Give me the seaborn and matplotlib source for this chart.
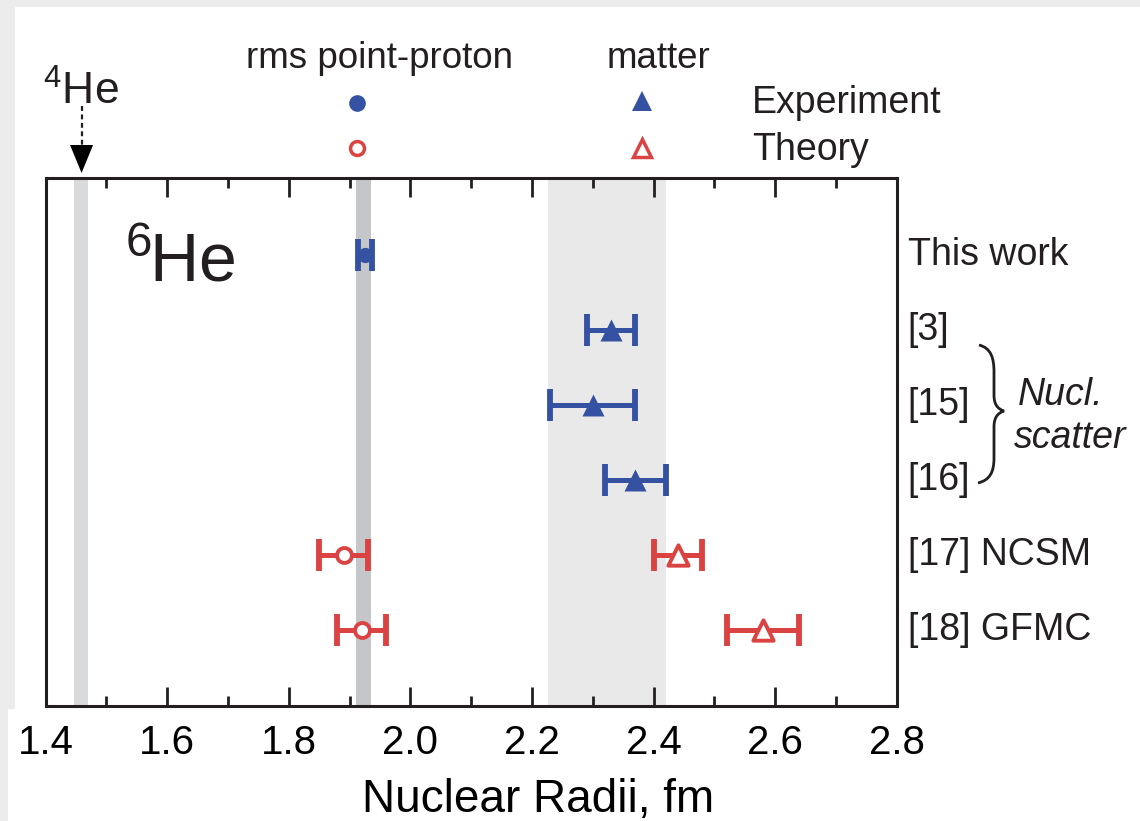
import numpy as np
import pandas as pd
import matplotlib
matplotlib.use("Agg")
import matplotlib.pyplot as plt
import seaborn as sns
from matplotlib.patches import Rectangle, PathPatch, Polygon
from matplotlib.path import Path
from matplotlib.lines import Line2D
import matplotlib.transforms as mtransforms

# ---------------- data ----------------
row_labels = ["This work", "[3]", "[15]", "[16]", "[17] NCSM", "[18] GFMC"]

exp_proton_rows = [0]
exp_proton_r = [1.925]
exp_proton_err = [0.012]

exp_matter_rows = [1, 2, 3]
exp_matter_r = [2.33, 2.30, 2.37]
exp_matter_err = [0.04, 0.07, 0.05]

th_proton_rows = [4, 5]
th_proton_r = [1.89, 1.92]
th_proton_err = [0.04, 0.04]

th_matter_rows = [4, 5]
th_matter_r = [2.44, 2.58]
th_matter_err = [0.04, 0.06]

he4_band = [1.447, 1.470]
proton_band = [1.910, 1.935]
matter_band = [2.226, 2.420]
he4_radius = 1.459

xticks_major = [1.4, 1.6, 1.8, 2.0, 2.2, 2.4, 2.6, 2.8]
xtick_labels = ["1.4", "1.6", "1.8", "2.0", "2.2", "2.4", "2.6", "2.8"]
xticks_minor = [1.5, 1.7, 1.9, 2.1, 2.3, 2.5, 2.7]

# ---------------- style ----------------
sns.set_theme(style="ticks")
plt.rcParams["font.family"] = ["Liberation Sans", "DejaVu Sans"]
plt.rcParams["mathtext.fontset"] = "custom"
plt.rcParams["mathtext.rm"] = "Liberation Sans"

BLUE = "#3451a2"
RED = "#db4242"
INK = "#231f20"

W, H = 1140, 821
fig = plt.figure(figsize=(W / 100, H / 100), dpi=100)
fig.patch.set_facecolor("#ececec")
# white page area
fig.add_artist(Rectangle((15 / W, 0), 1, 1 - 7 / H, transform=fig.transFigure,
                         facecolor="white", edgecolor="none", zorder=-10))
fig.add_artist(Rectangle((8 / W, 0), 1, 1 - 709 / H, transform=fig.transFigure,
                         facecolor="white", edgecolor="none", zorder=-10))

ax_l, ax_r, ax_t, ax_b = 45.7, 896.7, 178, 705.7
ax = fig.add_axes([ax_l / W, 1 - ax_b / H, (ax_r - ax_l) / W, (ax_b - ax_t) / H])
ax.set_facecolor("none")

# bands
ax.axvspan(*he4_band, color="#d9dadb", lw=0, zorder=0)
ax.axvspan(*proton_band, color="#c5c6ca", lw=0, zorder=0)
ax.axvspan(*matter_band, color="#e9e9e9", lw=0, zorder=0)

eb_kw = dict(fmt="none", elinewidth=3.6, capsize=11.5, capthick=4.2, zorder=3)
ax.errorbar(exp_proton_r, exp_proton_rows, xerr=exp_proton_err, ecolor=BLUE, **eb_kw)
ax.errorbar(exp_matter_r, exp_matter_rows, xerr=exp_matter_err, ecolor=BLUE, **eb_kw)
ax.errorbar(th_proton_r, th_proton_rows, xerr=th_proton_err, ecolor=RED, **eb_kw)
ax.errorbar(th_matter_r, th_matter_rows, xerr=th_matter_err, ecolor=RED, **eb_kw)

df_ep = pd.DataFrame({"r": exp_proton_r, "row": exp_proton_rows})
df_em = pd.DataFrame({"r": exp_matter_r, "row": exp_matter_rows})
df_tp = pd.DataFrame({"r": th_proton_r, "row": th_proton_rows})
df_tm = pd.DataFrame({"r": th_matter_r, "row": th_matter_rows})

sns.scatterplot(data=df_ep, x="r", y="row", marker="o", s=120, color=BLUE,
                edgecolor=BLUE, linewidth=0, ax=ax, zorder=2, legend=False)
sns.scatterplot(data=df_em, x="r", y="row", marker="^", s=250, color=BLUE,
                edgecolor=BLUE, linewidth=0, ax=ax, zorder=4, legend=False)
sns.scatterplot(data=df_tp, x="r", y="row", marker="o", s=115, color="white",
                edgecolor=RED, linewidth=2.8, ax=ax, zorder=4, legend=False)
sns.scatterplot(data=df_tm, x="r", y="row", marker="^", s=215, color="white",
                edgecolor=RED, linewidth=2.8, ax=ax, zorder=4, legend=False)

ax.set_xlim(1.4, 2.8)
ax.set_ylim(6.01, -1.027)
ax.set_yticks([])
ax.set_ylabel("")
ax.set_xticks(xticks_major)
ax.set_xticklabels(xtick_labels)
ax.set_xticks(xticks_minor, minor=True)
ax.tick_params(axis="x", which="both", direction="in", top=True, bottom=True,
               width=2.0, color=INK, labelsize=29, pad=13, labelcolor="black")
ax.tick_params(axis="x", which="major", length=14)
ax.tick_params(axis="x", which="minor", length=7)
for sp in ax.spines.values():
    sp.set_visible(True)
    sp.set_linewidth(2.2)
    sp.set_color(INK)
ax.set_xlabel("Nuclear Radii, fm", fontsize=33, color="black")
ax.xaxis.set_label_coords((538 - ax_l) / (ax_r - ax_l), -(812 - ax_b) / (ax_b - ax_t))
ax.xaxis.label.set_va("baseline")

def afx(x):
    return (x - ax_l) / (ax_r - ax_l)

def afy(y):
    return (ax_b - y) / (ax_b - ax_t)

# 6He label
ax.text(afx(125), afy(282), r"$\mathregular{^{6}\hspace{-0.07}He}$",
        transform=ax.transAxes, fontsize=49, ha="left", va="baseline", color=INK)

# row labels on right
blend = mtransforms.blended_transform_factory(ax.transAxes, ax.transData)
for i, lab in enumerate(row_labels):
    ax.text(1.013, i, lab, transform=blend, fontsize=27, ha="left", va="center",
            color=INK)

def fx(x):
    return x / W

def fy(y):
    return 1 - y / H

# brace
verts = [(979, 345), (991, 348), (994, 358), (994, 372),
         (994, 395),
         (994, 405), (998, 409), (1004, 411),
         (998, 413), (994, 417), (994, 427),
         (994, 458),
         (994, 472), (990, 480), (978, 483)]
codes = [Path.MOVETO, Path.CURVE4, Path.CURVE4, Path.CURVE4,
         Path.LINETO,
         Path.CURVE4, Path.CURVE4, Path.CURVE4,
         Path.CURVE4, Path.CURVE4, Path.CURVE4,
         Path.LINETO,
         Path.CURVE4, Path.CURVE4, Path.CURVE4]
verts_f = [(fx(x), fy(y)) for x, y in verts]
fig.add_artist(PathPatch(Path(verts_f, codes), transform=fig.transFigure,
                         facecolor="none", edgecolor=INK, lw=2.0))
fig.text(fx(1018), fy(405), "Nucl.", fontsize=27, style="italic", ha="left",
         va="baseline", color=INK)
fig.text(fx(1014), fy(448), "scatter", fontsize=27, style="italic", ha="left",
         va="baseline", color=INK)

# 4He arrow
blend_x = mtransforms.blended_transform_factory(ax.transData, ax.transAxes)
ax.plot([he4_radius, he4_radius], [afy(106), afy(146)], transform=blend_x,
        color=INK, lw=1.6, ls=(0, (2.2, 1.6)), clip_on=False)
hw = 11.5 / ((ax_r - ax_l) / 1.4)
ax.add_patch(Polygon([(he4_radius - hw, afy(145)), (he4_radius + hw, afy(145)),
                      (he4_radius, afy(173))], closed=True, transform=blend_x,
                     facecolor="black", edgecolor="none", clip_on=False))
fig.text(fx(43), fy(105), r"$\mathregular{^{4}He}$", fontsize=32, ha="left",
         va="baseline", color=INK)

# legend header
fig.text(fx(380), fy(68), "rms point-proton", fontsize=26.5, ha="center",
         va="baseline", color=INK)
fig.text(fx(658), fy(68), "matter", fontsize=26.5, ha="center", va="baseline",
         color=INK)
fig.text(fx(752), fy(113), "Experiment", fontsize=27, ha="left", va="baseline",
         color=INK)
fig.text(fx(752), fy(160), "Theory", fontsize=27, ha="left", va="baseline",
         color=INK)
fig.add_artist(Line2D([fx(357)], [fy(103)], marker="o", ms=12, color=BLUE,
                      mec=BLUE, mew=0, ls="none", transform=fig.transFigure))
fig.add_artist(Line2D([fx(357)], [fy(148)], marker="o", ms=10, mfc="white",
                      mec=RED, mew=2.5, ls="none", transform=fig.transFigure))
fig.add_artist(Line2D([fx(642)], [fy(101)], marker="^", ms=15, color=BLUE,
                      mec=BLUE, mew=0, ls="none", transform=fig.transFigure))
fig.add_artist(Line2D([fx(642)], [fy(148)], marker="^", ms=13, mfc="white",
                      mec=RED, mew=2.5, ls="none", transform=fig.transFigure))

fig.savefig("out.png", dpi=100, facecolor=fig.get_facecolor())
